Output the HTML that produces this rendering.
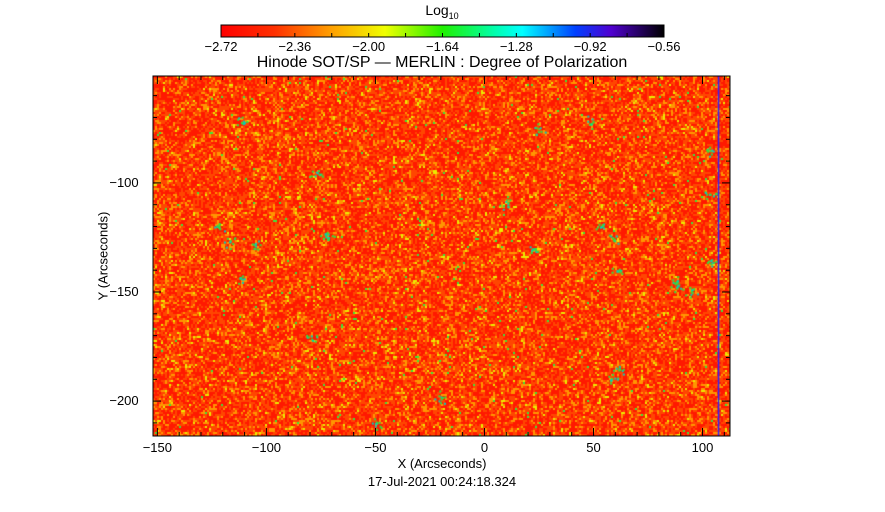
<!DOCTYPE html>
<html><head><meta charset="utf-8"><style>
body{margin:0;background:#fff;width:885px;height:512px;overflow:hidden;position:relative;font-family:"Liberation Sans",sans-serif;}
.t{position:absolute;font-size:13px;color:#000;white-space:nowrap;transform:translateX(-50%);}
</style></head><body>
<svg width="885" height="512" style="position:absolute;left:0;top:0">
<defs><linearGradient id="cb" x1="0" x2="1">
<stop offset="0" stop-color="#ff0000"/><stop offset="0.12" stop-color="#ff3000"/><stop offset="0.25" stop-color="#ffa000"/><stop offset="0.37" stop-color="#f0ff00"/><stop offset="0.5" stop-color="#20f000"/><stop offset="0.62" stop-color="#00ffb0"/><stop offset="0.68" stop-color="#00ffff"/><stop offset="0.8" stop-color="#0040ff"/><stop offset="0.88" stop-color="#5000d0"/><stop offset="1" stop-color="#000000"/></linearGradient></defs>
<rect x="221" y="25" width="443" height="12" fill="url(#cb)" stroke="#000"/>
<g id="cbt"></g>
</svg>
<canvas id="cv" width="577" height="360" style="position:absolute;left:153px;top:76px"></canvas>
<svg width="885" height="512" style="position:absolute;left:0;top:0;pointer-events:none"><g id="frame"></g></svg>
<div class="t" style="left:442px;top:2px;font-size:14px">Log<sub style="font-size:9px">10</sub></div>
<div class="t" style="left:442px;top:54px;font-size:16px">Hinode SOT/SP — MERLIN : Degree of Polarization</div>
<div class="t" style="left:442px;top:456px">X (Arcseconds)</div>
<div class="t" style="left:442px;top:474px">17-Jul-2021 00:24:18.324</div>
<div class="t" style="left:103px;top:256px;transform:translate(-50%,-50%) rotate(-90deg)">Y (Arcseconds)</div>
<div id="labels"></div>
<script>
const cbTicks=["-2.72","-2.36","-2.00","-1.64","-1.28","-0.92","-0.56"];
const xTicks=[-150,-100,-50,0,50,100];
const yTicks=[-100,-150,-200];
const blobX=[-122,-117,-112,-77,-73,-72,-50,-20,10,22,25,48,53,58,61,88,95,103,104,103,62,59,88,-105,-112,-80];
const blobY=[-120,-127,-72,-95,-123,-125,-210,-198,-110,-130,-75,-72,-120,-190,-140,-145,-150,-85,-135,-105,-185,-125,-148,-128,-143,-170];
const X0=-152,X1=112.6,Y0=-51,Y1=-216,L=153,R=730,T=76,B=436;
const sx=v=>L+(v-X0)/(X1-X0)*(R-L), sy=v=>T+(v-Y0)/(Y1-Y0)*(B-T);
const NS="http://www.w3.org/2000/svg";
const lab=document.getElementById('labels');
function txt(x,y,s,name){const d=document.createElement('div');d.className='t';d.style.left=x+'px';d.style.top=y+'px';d.textContent=s.replace(/-/g,'−');


lab.appendChild(d);return d;}
cbTicks.forEach((t,i)=>txt(221+i*443/6,39,t,'colorbar-tick-label'));
const cbt=document.getElementById('cbt');
for(let i=1;i<12;i++){const l=document.createElementNS(NS,'line');const x=221+i*443/12;l.setAttribute('x1',x);l.setAttribute('x2',x);l.setAttribute('y1',33);l.setAttribute('y2',37);l.setAttribute('stroke','#000');cbt.appendChild(l);}
xTicks.forEach(v=>txt(sx(v),440,String(v),'x-tick-label'));
yTicks.forEach(v=>{const d=txt(124,sy(v)-8,String(v),'y-tick-label');});
const cv=document.getElementById('cv'),ctx=cv.getContext('2d');
function h(i,j){let n=(i*374761393+j*668265263)|0;n=(n^(n>>>13))*1274126177|0;return ((n^(n>>>16))>>>0)/4294967296;}
const img=ctx.createImageData(577,360);
for(let y=0;y<360;y++)for(let x=0;x<577;x++){
 const cx=x>>1,cy=y>>1;let r=h(cx,cy)*0.7+h(cx>>1,cy>>1)*0.3;
 let col;
 if(r>0.9)col=[235,235,0];else if(r>0.72)col=[255,150,0];else if(r>0.45)col=[255,70,0];else col=[255,25,0];
 if(h(cy,cx)>0.992)col=[60,230,60];
 const k=(y*577+x)*4;img.data[k]=col[0];img.data[k+1]=col[1];img.data[k+2]=col[2];img.data[k+3]=255;}
ctx.putImageData(img,0,0);
blobX.forEach((bx,i)=>{const px=sx(bx)-L,py=sy(blobY[i])-T;
 for(let k=0;k<10;k++){const a=h(i,k)*6.28,d=h(k,i)*7;ctx.fillStyle=k%3?'#30e040':'#00d0c0';ctx.fillRect(px+Math.cos(a)*d,py+Math.sin(a)*d,2,2);}});
ctx.fillStyle='#3020ff';ctx.fillRect(sx(107)-L,0,1.5,360);
const fr=document.getElementById('frame');
const rc=document.createElementNS(NS,'rect');rc.setAttribute('x',L);rc.setAttribute('y',T);rc.setAttribute('width',R-L);rc.setAttribute('height',B-T);rc.setAttribute('fill','none');rc.setAttribute('stroke','#000');fr.appendChild(rc);
function tick(x1,y1,x2,y2){const l=document.createElementNS(NS,'line');l.setAttribute('x1',x1);l.setAttribute('y1',y1);l.setAttribute('x2',x2);l.setAttribute('y2',y2);l.setAttribute('stroke','#000');fr.appendChild(l);}
for(let v=-150;v<=110;v+=10){const x=sx(v),m=v%50===0?8:4;tick(x,B,x,B-m);tick(x,T,x,T+m);}
for(let v=-60;v>=-210;v-=10){const y=sy(v),m=v%50===0?8:4;tick(L,y,L+m,y);tick(R,y,R-m,y);}
</script>
</body></html>
